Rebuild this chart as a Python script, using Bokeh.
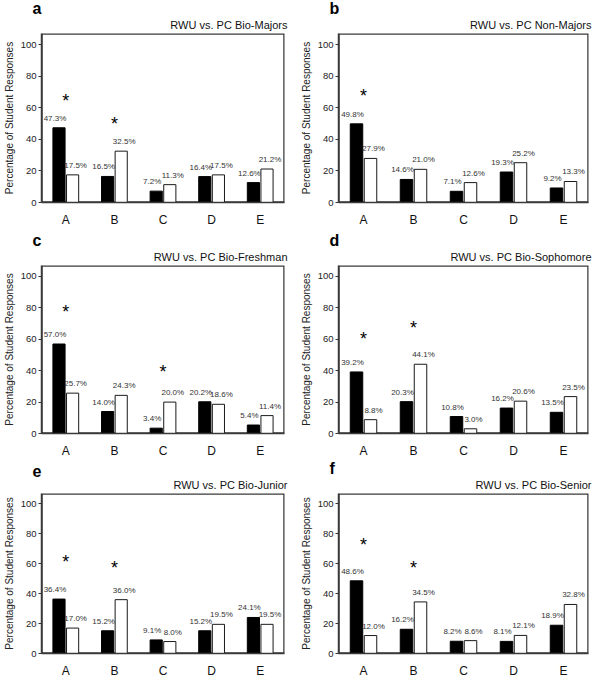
from bokeh.plotting import figure
from bokeh.models import FactorRange, Range1d, FixedTicker, Title, ColumnDataSource
from bokeh.transform import dodge
from bokeh.layouts import column, row
from bokeh.embed import file_html
from bokeh.resources import INLINE
from bokeh.core.properties import value

# ---------------- data ----------------
categories = ["A", "B", "C", "D", "E"]
y_ticks = [0, 20, 40, 60, 80, 100]
panel_letters = ["a", "b", "c", "d", "e", "f"]
panel_titles = ["RWU vs. PC Bio-Majors", "RWU vs. PC Non-Majors",
                "RWU vs. PC Bio-Freshman", "RWU vs. PC Bio-Sophomore",
                "RWU vs. PC Bio-Junior", "RWU vs. PC Bio-Senior"]
y_label = "Percentage of Student Responses"

rwu_a = [47.3, 16.5, 7.2, 16.4, 12.6]
pc_a = [17.5, 32.5, 11.3, 17.5, 21.2]
rwu_b = [49.8, 14.6, 7.1, 19.3, 9.2]
pc_b = [27.9, 21.0, 12.6, 25.2, 13.3]
rwu_c = [57.0, 14.0, 3.4, 20.2, 5.4]
pc_c = [25.7, 24.3, 20.0, 18.6, 11.4]
rwu_d = [39.2, 20.3, 10.8, 16.2, 13.5]
pc_d = [8.8, 44.1, 3.0, 20.6, 23.5]
rwu_e = [36.4, 15.2, 9.1, 15.2, 24.1]
pc_e = [17.0, 36.0, 8.0, 19.5, 19.5]
rwu_f = [48.6, 16.2, 8.2, 8.1, 18.9]
pc_f = [12.0, 34.5, 8.6, 12.1, 32.8]

star_cats_a, star_y_a = ["A", "B"], [67, 52]
star_cats_b, star_y_b = ["A"], [70]
star_cats_c, star_y_c = ["A", "C"], [80, 42]
star_cats_d, star_y_d = ["A", "B"], [63, 70]
star_cats_e, star_y_e = ["A", "B"], [64, 60]
star_cats_f, star_y_f = ["A", "B"], [75, 60]

rwu_all = [rwu_a, rwu_b, rwu_c, rwu_d, rwu_e, rwu_f]
pc_all = [pc_a, pc_b, pc_c, pc_d, pc_e, pc_f]
star_cats_all = [star_cats_a, star_cats_b, star_cats_c, star_cats_d, star_cats_e, star_cats_f]
star_y_all = [star_y_a, star_y_b, star_y_c, star_y_d, star_y_e, star_y_f]

# ---------------- layout ----------------
FONT = "Liberation Sans"
EDGE = "#3a3a3a"
FRAME_W = 250
col_w = [296, 297]
col_left = [34, 42]
row_h = [232, 228, 220]
row_bottom = [30, 26, 18]
Y_MAX = 107

BAR_W = 0.25
OFF = 0.14


def make_panel(i):
    r, c = divmod(i, 2)
    p = figure(width=col_w[c], height=row_h[r],
               x_range=FactorRange(*categories, range_padding=0),
               y_range=Range1d(0, Y_MAX),
               output_backend="svg", toolbar_location=None,
               min_border_left=col_left[c],
               min_border_right=col_w[c] - col_left[c] - FRAME_W,
               min_border_top=0, min_border_bottom=row_bottom[r],
               background_fill_color="white", border_fill_color="white")
    p.outline_line_color = None
    p.xgrid.visible = False
    p.ygrid.visible = False

    # frame border drawn along the range limits
    p.quad(left=[0], right=[len(categories)], bottom=[0], top=[Y_MAX],
           fill_color=None, line_color=EDGE, line_width=2.5)

    # panel letter (outermost) and panel title (next to the frame)
    p.title.text = panel_letters[i]
    p.title.align = "left"
    p.title.offset = -9
    p.title.text_font = FONT
    p.title.text_font_size = "16px"
    p.title.text_font_style = "bold"
    p.title.text_color = "black"
    try:
        p.title.standoff = -6
    except Exception:
        p.title.standoff = 0
    p.add_layout(Title(text=panel_titles[i], align="right", offset=-3,
                       text_font=FONT, text_font_size="11px",
                       text_font_style="normal", text_color="#111111",
                       standoff=6), "above")

    labels_rwu = ["%.1f%%" % v for v in rwu_all[i]]
    labels_pc = ["%.1f%%" % v for v in pc_all[i]]
    src = ColumnDataSource(dict(cat=categories, rwu=rwu_all[i], pc=pc_all[i],
                                lrwu=labels_rwu, lpc=labels_pc))
    p.vbar(x=dodge("cat", -OFF, range=p.x_range), top="rwu", width=BAR_W,
           source=src, fill_color="black", line_color="black", line_width=1)
    p.vbar(x=dodge("cat", OFF, range=p.x_range), top="pc", width=BAR_W,
           source=src, fill_color="white", line_color="#1a1a1a", line_width=1)
    p.text(x=dodge("cat", -OFF, range=p.x_range), y="rwu", text="lrwu", source=src,
           text_font=value(FONT), text_font_size="8px", text_color="#333333",
           text_align="center", text_baseline="bottom", x_offset=-4, y_offset=-5)
    p.text(x=dodge("cat", OFF, range=p.x_range), y="pc", text="lpc", source=src,
           text_font=value(FONT), text_font_size="8px", text_color="#333333",
           text_align="center", text_baseline="bottom", x_offset=3, y_offset=-5)
    ssrc = ColumnDataSource(dict(cat=star_cats_all[i], y=star_y_all[i],
                                 s=["*"] * len(star_cats_all[i])))
    p.text(x="cat", y="y", text="s", source=ssrc, text_font=value(FONT),
           text_font_size="18px", text_color="black", text_align="center",
           text_baseline="middle", y_offset=4)

    ya = p.yaxis[0]
    ya.ticker = FixedTicker(ticks=y_ticks)
    ya.axis_label = y_label
    ya.axis_label_text_font = FONT
    ya.axis_label_text_font_size = "10px"
    ya.axis_label_text_font_style = "normal"
    ya.axis_label_text_color = "#222222"
    ya.axis_label_standoff = 3
    ya.major_label_text_font = FONT
    ya.major_label_text_font_size = "9.5px"
    ya.major_label_text_color = "#222222"
    ya.major_label_standoff = 2
    ya.major_tick_out = 3
    ya.major_tick_in = 0
    ya.minor_tick_line_color = None
    ya.axis_line_color = EDGE
    ya.axis_line_width = 1.5
    ya.major_tick_line_color = "#333333"

    xa = p.xaxis[0]
    xa.major_label_text_font = FONT
    xa.major_label_text_font_size = "12px"
    xa.major_label_text_color = "#111111"
    xa.major_tick_line_color = None
    xa.minor_tick_line_color = None
    xa.axis_line_color = EDGE
    xa.axis_line_width = 1.5
    xa.major_label_standoff = 4
    return p


panels = [make_panel(i) for i in range(6)]
layout = column(row(panels[0], panels[1]), row(panels[2], panels[3]),
                row(panels[4], panels[5]))

open("out.html", "w").write(file_html(layout, INLINE))
